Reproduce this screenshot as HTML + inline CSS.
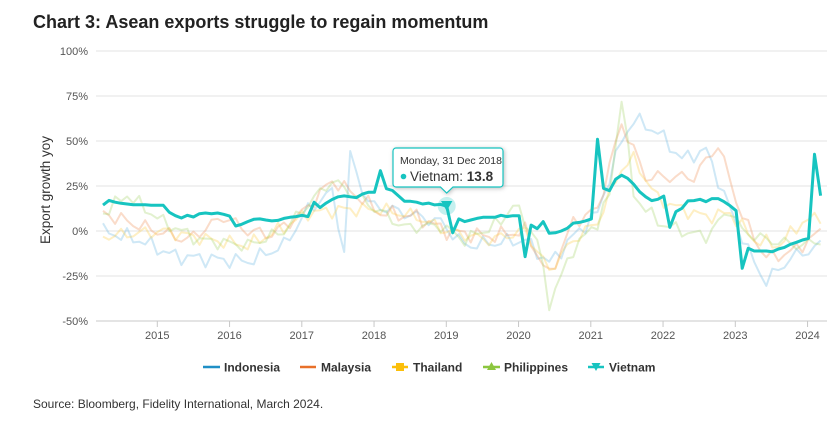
<!DOCTYPE html>
<html><head><meta charset="utf-8"><style>
body{margin:0;background:#fff;width:840px;height:418px;overflow:hidden;font-family:"Liberation Sans",sans-serif;}
</style></head><body>
<svg id="s" width="840" height="418" xmlns="http://www.w3.org/2000/svg" font-family="Liberation Sans, sans-serif">
<text x="33" y="28" font-size="18" font-weight="bold" fill="#222">Chart 3: Asean exports struggle to regain momentum</text>
<g id="grid"></g>
<text transform="translate(50,190) rotate(-90)" text-anchor="middle" font-size="13.5" fill="#333">Export growth yoy</text>
<g id="series"></g>
<g font-size="12" font-weight="bold" fill="#333">
<line x1="203" y1="367" x2="220" y2="367" stroke="#1f8fc6" stroke-width="2.5"/><text x="224" y="371.5">Indonesia</text>
<line x1="300" y1="367" x2="316" y2="367" stroke="#e8702a" stroke-width="2.5"/><text x="321" y="371.5">Malaysia</text>
<line x1="392" y1="367" x2="408" y2="367" stroke="#fbbf0a" stroke-width="2.5"/><rect x="396" y="363" width="8" height="8" fill="#fbbf0a"/><text x="413" y="371.5">Thailand</text>
<line x1="483" y1="367" x2="500" y2="367" stroke="#8cc63f" stroke-width="2.5"/><path d="M491.5 362 L496 370 L487 370Z" fill="#8cc63f"/><text x="504" y="371.5">Philippines</text>
<line x1="588" y1="367" x2="604" y2="367" stroke="#17c4c0" stroke-width="2.5"/><path d="M591.5 363 L600.5 363 L596 371Z" fill="#17c4c0"/><text x="609" y="371.5">Vietnam</text>
</g>
<text x="33" y="408" font-size="12" fill="#333">Source: Bloomberg, Fidelity International, March 2024.</text>
<circle cx="446.7" cy="206" r="9" fill="#17c4c0" opacity="0.25"/>
<path d="M441 201 L452.4 201 L446.7 211Z" fill="#17c4c0"/>
<path d="M396 148 H500 a3 3 0 0 1 3 3 V184 a3 3 0 0 1 -3 3 H453 L446.7 193 L440.4 187 H396 a3 3 0 0 1 -3 -3 V151 a3 3 0 0 1 3 -3Z" fill="#fff" stroke="#17c4c0" stroke-width="1.2" style="filter:drop-shadow(1px 1px 2px rgba(0,0,0,0.25))"/>
<text x="400" y="164" font-size="10.5" fill="#333">Monday, 31 Dec 2018</text>
<circle cx="403.5" cy="176.5" r="2.8" fill="#17c4c0"/>
<text x="410" y="181" font-size="13.5" fill="#333">Vietnam: <tspan font-weight="bold">13.8</tspan></text>
</svg>
<script>
var NS="http://www.w3.org/2000/svg";
function el(t,a,p){var e=document.createElementNS(NS,t);for(var k in a)e.setAttribute(k,a[k]);p.appendChild(e);return e;}
var g=document.getElementById('grid'),se=document.getElementById('series');
function Y(v){return 231-v*1.8;}
function X(i){return 103+6.03*i;}
var labs=['100%','75%','50%','25%','0%','-25%','-50%'];
for(var k=0;k<7;k++){var v=100-25*k,y=Y(v);
 el('line',{x1:96,x2:827,y1:y,y2:y,stroke:k==6?'#c8c8c8':'#e3e3e3','stroke-width':1},g);
 var t=el('text',{x:88,y:y+4,'text-anchor':'end','font-size':11,fill:'#555'},g);t.textContent=labs[k];}
for(var yr=2015;yr<=2024;yr++){var x=157.3+(yr-2015)*72.25;
 el('line',{x1:x,x2:x,y1:321,y2:327,stroke:'#c8c8c8'},g);
 var t=el('text',{x:x,y:339,'text-anchor':'middle','font-size':11,fill:'#555'},g);t.textContent=yr;}
function interp(anch){var out=[];for(var i=0;i<120;i++){for(var j=0;j<anch.length-1;j++){if(i>=anch[j][0]&&i<=anch[j+1][0]){var a=anch[j],b=anch[j+1],f=(i-a[0])/((b[0]-a[0])||1);out.push(a[1]+(b[1]-a[1])*f);break;}}}return out;}
function noise(seed,amp){return function(i){return amp*(Math.sin(i*1.7+seed)*0.6+Math.sin(i*3.1+seed*2)*0.4);};}
function mk(anch,seed,amp){var b=interp(anch),n=noise(seed,amp);return b.map(function(v,i){return v+n(i);});}
var indo=mk([[0,0],[6,-5],[12,-14],[24,-17],[30,-8],[34,12],[38,22],[40,-12],[41,42],[44,15],[50,10],[56,5],[60,-8],[70,-5],[74,-18],[78,-3],[82,10],[86,50],[88,62],[92,55],[96,40],[100,45],[104,12],[108,-18],[110,-28],[114,-15],[119,-8]],1,5);
var mal=mk([[0,10],[6,3],[14,-5],[20,8],[24,0],[28,-2],[33,10],[38,28],[42,20],[46,10],[52,8],[57,0],[64,-3],[70,0],[74,-25],[78,5],[82,12],[86,60],[90,30],[94,30],[98,30],[102,48],[106,8],[110,-15],[114,-12],[118,-3],[119,0]],2,5);
var tha=mk([[0,-3],[10,0],[18,-5],[24,-8],[30,2],[34,10],[40,12],[46,12],[52,8],[57,0],[64,-5],[70,0],[74,-22],[78,-5],[82,5],[86,35],[88,40],[92,18],[96,12],[100,8],[104,10],[108,-5],[112,-8],[116,5],[119,8]],3,4.5);
var phi=mk([[0,10],[4,20],[10,5],[16,-5],[24,-8],[30,0],[34,15],[38,28],[44,15],[50,2],[56,3],[60,-5],[66,5],[68,15],[72,-5],[74,-40],[78,-10],[82,5],[84,20],[86,75],[88,20],[92,5],[96,0],[100,-3],[104,12],[106,0],[110,-5],[116,-8],[119,-5]],4,4.5);
var vn=[14.4,17,16,15.4,15,14.6,14.6,14.6,14.3,14.3,14.3,10.4,8.5,7.2,8.7,7.8,9.6,10,9.6,10,9.3,8.3,2.8,3.7,5.2,6.5,6.7,6.1,5.6,5.9,7,7.6,8,8.7,8,16,13,15.5,17.5,19,19.5,19,18.5,20.5,21.5,21.5,33.5,23.5,22.5,19.5,16.5,16.5,16,15,15.5,14.5,14.8,13.8,-1,6.7,5.2,6.1,7,7.6,7.6,7.6,8.7,8,8.5,8.5,-14.3,3.3,1.3,5.2,-1.3,-1,0,1.5,4.4,4.8,5.6,6.7,51,23.7,22.4,28.7,31,29.3,26,21.8,19,16.9,17.6,19.4,2,10.7,12.6,16.7,16.9,17.6,16.3,18,18,16.3,14,11.3,-20.7,-9.6,-11.1,-11.1,-11.1,-11.5,-10,-9.1,-7.4,-6.3,-5,-4.1,42.6,19.6];
function path(d){return d.map(function(v,i){return (i?'L':'M')+X(i).toFixed(1)+' '+Y(v).toFixed(1);}).join(' ');}
[[indo,'#5fb4e0'],[mal,'#f08a50'],[tha,'#fcc93a'],[phi,'#9fd060']].forEach(function(s){el('path',{d:path(s[0]),fill:'none',stroke:s[1],'stroke-width':2,opacity:0.3,'stroke-linejoin':'round'},se);});
el('path',{d:path(vn),fill:'none',stroke:'#17c4c0','stroke-width':3,'stroke-linejoin':'round'},se);
</script>
</body></html>
